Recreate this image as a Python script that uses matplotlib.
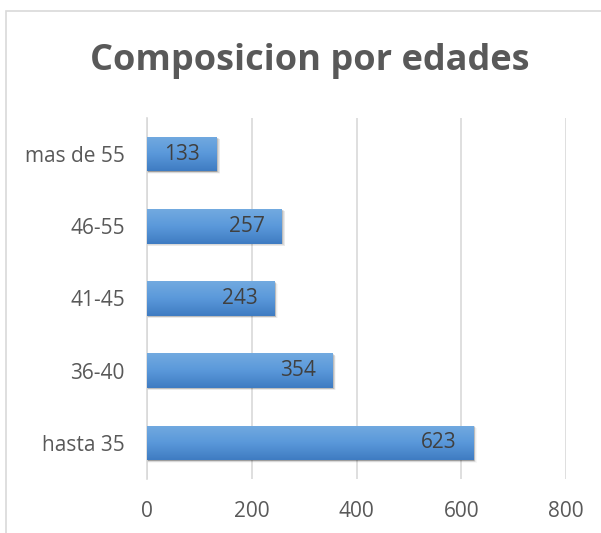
import numpy as np
import matplotlib
matplotlib.use("Agg")
import matplotlib.pyplot as plt
from matplotlib.patches import Rectangle

# datos
edades = ["hasta 35", "36-40", "41-45", "46-55", "mas de 55"]
cantidad = [623, 354, 243, 257, 133]
ticks_x = [0, 200, 400, 600, 800]

GRIS = "#595959"
plt.rcParams["font.family"] = ["Open Sans", "DejaVu Sans"]

W, H = 601, 533
fig = plt.figure(figsize=(W / 100, H / 100), dpi=100)
ax = fig.add_axes([147 / W, 1 - 479 / H, (566 - 147) / W, (479 - 118) / H])

# marco del grafico
fig.patches.append(Rectangle((5.5 / W, -0.1), 1.2, 1 - 11.5 / H + 0.1,
                             transform=fig.transFigure, fill=False,
                             edgecolor="#d9d9d9", linewidth=1.2, zorder=0))

alto = 0.48
grad = np.linspace(0, 1, 64).reshape(-1, 1)
cmap = matplotlib.colors.LinearSegmentedColormap.from_list(
    "azul", ["#3f7cc2", "#5a98da", "#72aae0"])

for i, v in enumerate(cantidad):
    # sombra difusa abajo a la derecha
    for k, a in enumerate([0.16, 0.12, 0.08, 0.05, 0.03]):
        d = 1.0 + k * 1.4
        ax.add_patch(Rectangle((0, i - alto / 2 - d * 0.005), v + d * 1.1, alto,
                               facecolor="black", alpha=a, edgecolor="none", zorder=2))
    bar = ax.barh(i, v, height=alto, color="#5b9bd5", zorder=3)[0]
    img = ax.imshow(grad, extent=(0, v, i - alto / 2, i + alto / 2), cmap=cmap,
                    aspect="auto", origin="lower", zorder=3.5, interpolation="bicubic")
    img.set_clip_path(bar)
    ax.annotate(str(v), (v, i), xytext=(-12, 0), textcoords="offset points",
                ha="right", va="center", fontsize=15, color="#404040", zorder=5)

ax.set_xlim(0, 800)
ax.set_ylim(-0.5, 4.5)
ax.set_xticks(ticks_x)
ax.set_yticks(range(len(edades)))
ax.set_yticklabels(edades)
ax.tick_params(axis="both", length=0, labelsize=15, labelcolor=GRIS)
ax.tick_params(axis="x", pad=16)
ax.tick_params(axis="y", pad=16)
ax.xaxis.grid(True, color="#d9d9d9", linewidth=1.2)
ax.set_axisbelow(True)
for s in ["top", "right", "bottom"]:
    ax.spines[s].set_visible(False)
ax.spines["left"].set_color("#d9d9d9")
ax.spines["left"].set_linewidth(1.2)

fig.text(310 / W, 1 - 61 / H, "Composicion por edades", ha="center", va="center",
         fontsize=26, fontweight="bold", color=GRIS)

fig.savefig("out.png", dpi=100)
